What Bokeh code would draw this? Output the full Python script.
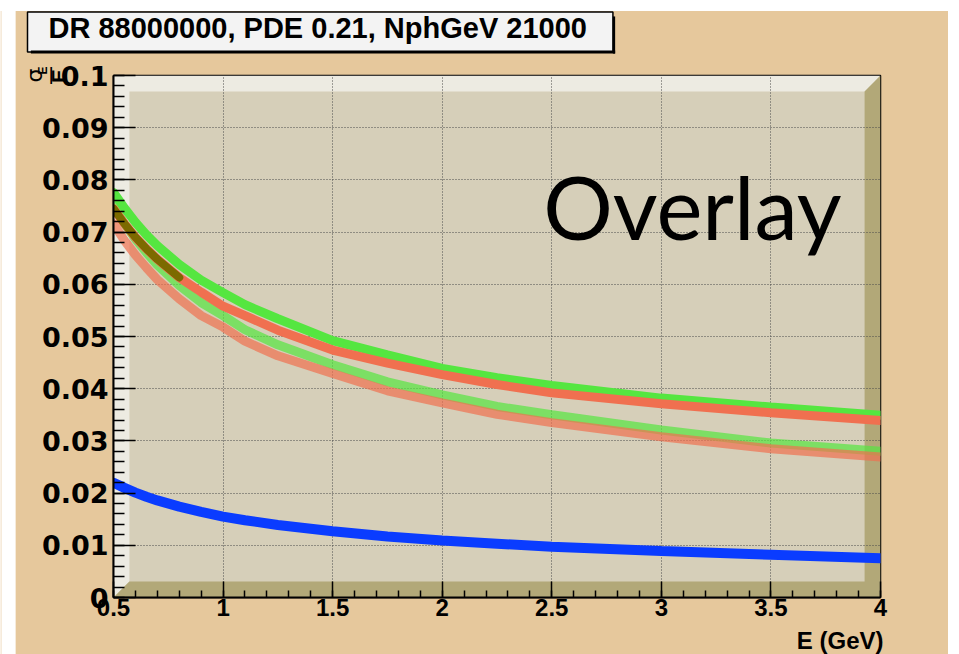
from math import pi
from bokeh.plotting import figure
from bokeh.models import Range1d, SingleIntervalTicker, CustomJSTickFormatter, Label
from bokeh.embed import file_html
from bokeh.resources import INLINE

# ---- data ----
energy = [0.5, 0.55, 0.6, 0.65, 0.7, 0.8, 0.9, 1.0, 1.1, 1.25, 1.5, 1.75, 2.0, 2.25, 2.5, 3.0, 3.5, 4.0]
res_green = [0.0776, 0.0746, 0.0719, 0.0695, 0.0674, 0.0638, 0.0608, 0.0584, 0.0561, 0.0534, 0.0492, 0.0465,
             0.0439, 0.0421, 0.0406, 0.0382, 0.0365, 0.0349]
res_red = [0.0745, 0.0716, 0.0690, 0.0668, 0.0648, 0.0613, 0.0585, 0.0558, 0.0540, 0.0512, 0.0474, 0.0449,
           0.0427, 0.0408, 0.0392, 0.0371, 0.0354, 0.0339]
res_lightgreen = [0.0750, 0.0716, 0.0687, 0.0661, 0.0637, 0.0598, 0.0565, 0.0540, 0.0513, 0.0484, 0.0446, 0.0413,
                  0.0388, 0.0366, 0.0350, 0.0321, 0.0296, 0.0280]
res_salmon = [0.0716, 0.0684, 0.0656, 0.0632, 0.0609, 0.0572, 0.0540, 0.0518, 0.0491, 0.0463, 0.0429, 0.0396,
              0.0373, 0.0351, 0.0335, 0.0308, 0.0285, 0.0269]
res_blue = [0.0220, 0.0210, 0.0201, 0.0193, 0.0186, 0.0174, 0.0164, 0.0155, 0.0148, 0.0139, 0.0127, 0.0117,
            0.0109, 0.0103, 0.0097, 0.0089, 0.0082, 0.0075]
overlap_n = 6  # points where the red and light-green curves overlap (E <= 0.8)

title_text = "DR 88000000, PDE 0.21, NphGeV 21000"
x_title = "E (GeV)"
big_text = "Overlay"

X0, X1 = 0.5, 4.0
Y0, Y1 = 0.0, 0.1

W, H = 948, 654
FL, FT, FW, FH = 113, 75, 771, 522

TAN = "#E6C89C"
PANEL = "#D6CFB9"
LIGHT = "#EDEBE2"
DARK = "#B2A878"

p = figure(width=W, height=H, x_range=Range1d(X0, X1), y_range=Range1d(Y0, Y1),
           output_backend="svg", toolbar_location=None,
           min_border_left=FL, min_border_top=FT,
           min_border_right=W - FL - FW, min_border_bottom=H - FT - FH)
p.border_fill_color = TAN
p.background_fill_color = PANEL
p.outline_line_color = "black"
p.outline_line_width = 1.5


def px_x(px):
    return X0 + (px - FL) * (X1 - X0) / FW


def px_y(py):
    return Y1 - (py - FT) * (Y1 - Y0) / FH


# 3D bevel of the frame
bx = 16 * (X1 - X0) / FW
by = 16 * (Y1 - Y0) / FH
r1 = p.patch([X0, X0, X1, X1 - bx, X0 + bx, X0 + bx],
             [Y0, Y1, Y1, Y1 - by, Y1 - by, Y0 + by],
             fill_color=LIGHT, line_color=None)
r2 = p.patch([X0, X1, X1, X1 - bx, X1 - bx, X0 + bx],
             [Y0, Y0, Y1, Y1 - by, Y0 + by, Y0 + by],
             fill_color=DARK, line_color=None)
r1.level = "image"
r2.level = "image"

# grid
for g in (p.xgrid, p.ygrid):
    g.grid_line_color = "#4a4a4a"
    g.grid_line_dash = "1 2"
    g.grid_line_width = 1

# axes
fmt = CustomJSTickFormatter(code="return String(parseFloat(tick.toFixed(3)));")
p.xaxis.ticker = SingleIntervalTicker(interval=0.5, num_minor_ticks=5)
p.yaxis.ticker = SingleIntervalTicker(interval=0.01, num_minor_ticks=5)
for ax in (p.xaxis, p.yaxis):
    ax.formatter = fmt
    ax.axis_line_color = "black"
    ax.axis_line_width = 2
    ax.major_tick_line_color = "black"
    ax.minor_tick_line_color = "black"
    ax.major_tick_line_width = 1.5
    ax.minor_tick_line_width = 1.5
    ax.major_tick_out = 0
    ax.minor_tick_out = 0
    ax.major_label_text_font_style = "bold"
    ax.major_label_text_color = "black"
p.xaxis.major_label_text_font = "Liberation Sans"
p.xaxis.major_label_text_font_size = "24px"
p.yaxis.major_label_text_font = "DejaVu Sans"
p.yaxis.major_label_text_font_size = "27px"
p.xaxis.major_tick_in = 16
p.xaxis.minor_tick_in = 7
p.yaxis.major_tick_in = 22
p.yaxis.minor_tick_in = 11
p.xaxis.major_label_standoff = 1
p.yaxis.major_label_standoff = 5

# curves
p.line(energy, res_green, line_color="#55E640", line_width=9, line_cap="round")
p.line(energy, res_lightgreen, line_color="#55E640", line_alpha=0.7, line_width=9, line_cap="round")
p.line(energy, res_red, line_color="#F07050", line_width=9, line_cap="round")
p.line(energy, res_salmon, line_color="#F07050", line_alpha=0.7, line_width=9, line_cap="round")
p.line(energy[:overlap_n], res_red[:overlap_n], line_color="#7C6A00", line_width=8, line_cap="round")
p.line(energy, res_blue, line_color="#0A3CFF", line_width=10, line_cap="round")


def clabel(x, y, text, **kw):
    """Label positioned in canvas pixels from the top-left corner."""
    return Label(x=x, y=y, x_units="canvas", y_units="canvas", text=text, **kw)


def strip(cx, cy, half_w, half_h, color):
    """Plain filled strip (empty label with padding = (left, right, top, bottom))."""
    return clabel(cx, cy, " ", text_font_size="1px", text_align="center", text_baseline="middle",
                  background_fill_color=color, padding=(half_w, half_w, half_h, half_h))


# white page margin seen at top / left of the reference
p.add_layout(strip(W / 2, 5, int(W / 2) + 1, 5, "white"), "above")
p.add_layout(strip(8, H / 2, 7, int(H / 2) + 1, "white"), "left")

# title box (side panels so that it is not clipped to the frame)
p.add_layout(clabel(27, 31.5, title_text, text_font="Liberation Sans", text_font_style="bold",
                    text_font_size="29px", text_baseline="middle", text_align="left",
                    text_color="black", background_fill_color="#F3F3F3",
                    border_line_color="black", border_line_width=1.5, padding=(21, 26, 0, 8)), "above")
# its shadow (bottom and right strips)
p.add_layout(strip(322.5, 51.5, 292, 1, "black"), "above")
p.add_layout(strip(613.5, 34.5, 1, 18, "black"), "right")

# big "Overlay" text (inside the frame)
p.add_layout(Label(x=px_x(545), y=px_y(205.5), text=big_text, text_font="Lato",
                   text_font_size="87px", text_baseline="middle", text_color="black"))

# x axis title
p.add_layout(clabel(883, 640, x_title, text_font="Liberation Sans", text_font_style="bold",
                    text_font_size="24px", text_align="right", text_baseline="middle",
                    text_color="black"), "below")

# y axis title: sigma_E / E (rotated)
rkw = dict(angle=pi / 2, text_align="center", text_baseline="middle", text_color="black")
p.add_layout(clabel(34, 75, "σ", text_font="DejaVu Sans", text_font_size="22px", **rkw), "right")
p.add_layout(clabel(42.5, 70, "E", text_font="Liberation Sans", text_font_style="bold",
                    text_font_size="12px", **rkw), "left")
p.add_layout(clabel(50, 75, "\u2014", text_font="Liberation Sans", text_font_style="bold",
                    text_font_size="17px", **rkw), "right")
p.add_layout(clabel(58, 75.5, "E", text_font="Liberation Sans", text_font_style="bold",
                    text_font_size="20px", **rkw), "right")

open("out.html", "w").write(file_html(p, INLINE))
